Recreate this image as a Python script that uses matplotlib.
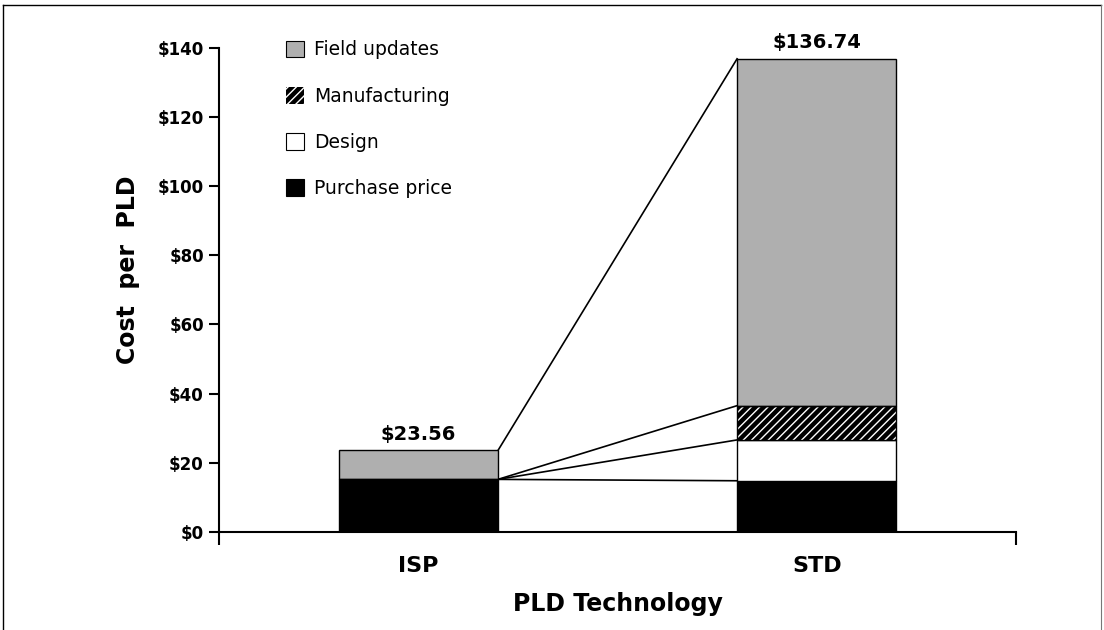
import matplotlib
matplotlib.use("Agg")
import matplotlib.pyplot as plt
from matplotlib.patches import Patch
from matplotlib.lines import Line2D
import numpy as np

plt.rcParams['font.family'] = ['DejaVu Sans']

# Cost breakdown per PLD (USD)
technologies = ["ISP", "STD"]
purchase_price = [15.20, 14.80]
design = [0.00, 11.80]
manufacturing = [0.00, 9.90]
field_updates = [8.36, 100.24]
totals = [23.56, 136.74]

y_ticks = [0, 20, 40, 60, 80, 100, 120, 140]
y_tick_labels = ["$0", "$20", "$40", "$60", "$80", "$100", "$120", "$140"]
total_labels = ["$23.56", "$136.74"]

fig = plt.figure(figsize=(11.04, 6.30), dpi=100)
ax = fig.add_axes([0.1984, 0.1556, 0.7219, 0.7690])

x = np.arange(len(technologies))
width = 0.40
gray = "#afafaf"

purchase = np.array(purchase_price)
des = np.array(design)
mfg = np.array(manufacturing)
fld = np.array(field_updates)

b0 = np.zeros(len(x))
b1 = b0 + purchase
b2 = b1 + des
b3 = b2 + mfg

ax.bar(x, purchase, width, bottom=b0, color="black", edgecolor="black", linewidth=1.0, zorder=3)
ax.bar(x, des, width, bottom=b1, color="white", edgecolor="black", linewidth=1.0, zorder=3)
# manufacturing: black fill with white diagonal hatch, then a black outline
ax.bar(x, mfg, width, bottom=b2, color="black", edgecolor="white", linewidth=0, hatch="////", zorder=3)
ax.bar(x, mfg, width, bottom=b2, fill=False, edgecolor="black", linewidth=1.0, zorder=4)
ax.bar(x, fld, width, bottom=b3, color=gray, edgecolor="black", linewidth=1.0, zorder=3)

# series lines joining segment tops between the two bars
tops = [b1, b2, b3, b3 + fld]
for t in tops:
    ax.plot([x[0] + width / 2, x[1] - width / 2], [t[0], t[1]], color="black", lw=1.2, zorder=2)

for xi, tot, lab in zip(x, totals, total_labels):
    ax.text(xi, tot + 2.0, lab, ha="center", va="bottom", fontsize=14, fontweight="bold")

ax.set_xlim(-0.5, 1.5)
ax.set_ylim(0, 140)
ax.set_yticks(y_ticks)
ax.set_yticklabels(y_tick_labels, fontsize=12, fontweight="bold")
ax.tick_params(axis="y", direction="out", length=7, width=1.5, pad=4)

ax.set_xticks(x)
ax.set_xticklabels(technologies, fontsize=16, fontweight="bold")
ax.tick_params(axis="x", which="major", length=0, pad=17)
ax.set_xticks([-0.5, 1.5], minor=True)
ax.tick_params(axis="x", which="minor", direction="out", length=9, width=1.5)

for s in ["top", "right"]:
    ax.spines[s].set_visible(False)
for s in ["left", "bottom"]:
    ax.spines[s].set_linewidth(1.5)

ax.set_ylabel("Cost  per  PLD", fontsize=17, fontweight="bold")
ax.yaxis.set_label_coords(-0.099, 0.541)
ax.set_xlabel("PLD Technology", fontsize=17, fontweight="bold", labelpad=12)

handles = [
    Patch(facecolor=gray, edgecolor="black", linewidth=0.8),
    Patch(facecolor="black", edgecolor="white", hatch="////", linewidth=0),
    Patch(facecolor="white", edgecolor="black", linewidth=0.8),
    Patch(facecolor="black", edgecolor="black", linewidth=0.8),
]
labels = ["Field updates", "Manufacturing", "Design", "Purchase price"]
ax.legend(handles, labels, loc="upper left", bbox_to_anchor=(0.074, 1.03), frameon=False,
          fontsize=13.5, handlelength=1.0, handleheight=1.0, handletextpad=0.5,
          labelspacing=1.45, borderaxespad=0)

# outer frame
fig.add_artist(Line2D([0.003, 0.003], [0.0, 0.992], transform=fig.transFigure, color="black", lw=1.0))
fig.add_artist(Line2D([0.003, 0.997], [0.992, 0.992], transform=fig.transFigure, color="black", lw=1.0))
fig.add_artist(Line2D([0.997, 0.997], [0.0, 0.992], transform=fig.transFigure, color="#777777", lw=0.8))

fig.savefig("out.png", dpi=100)
